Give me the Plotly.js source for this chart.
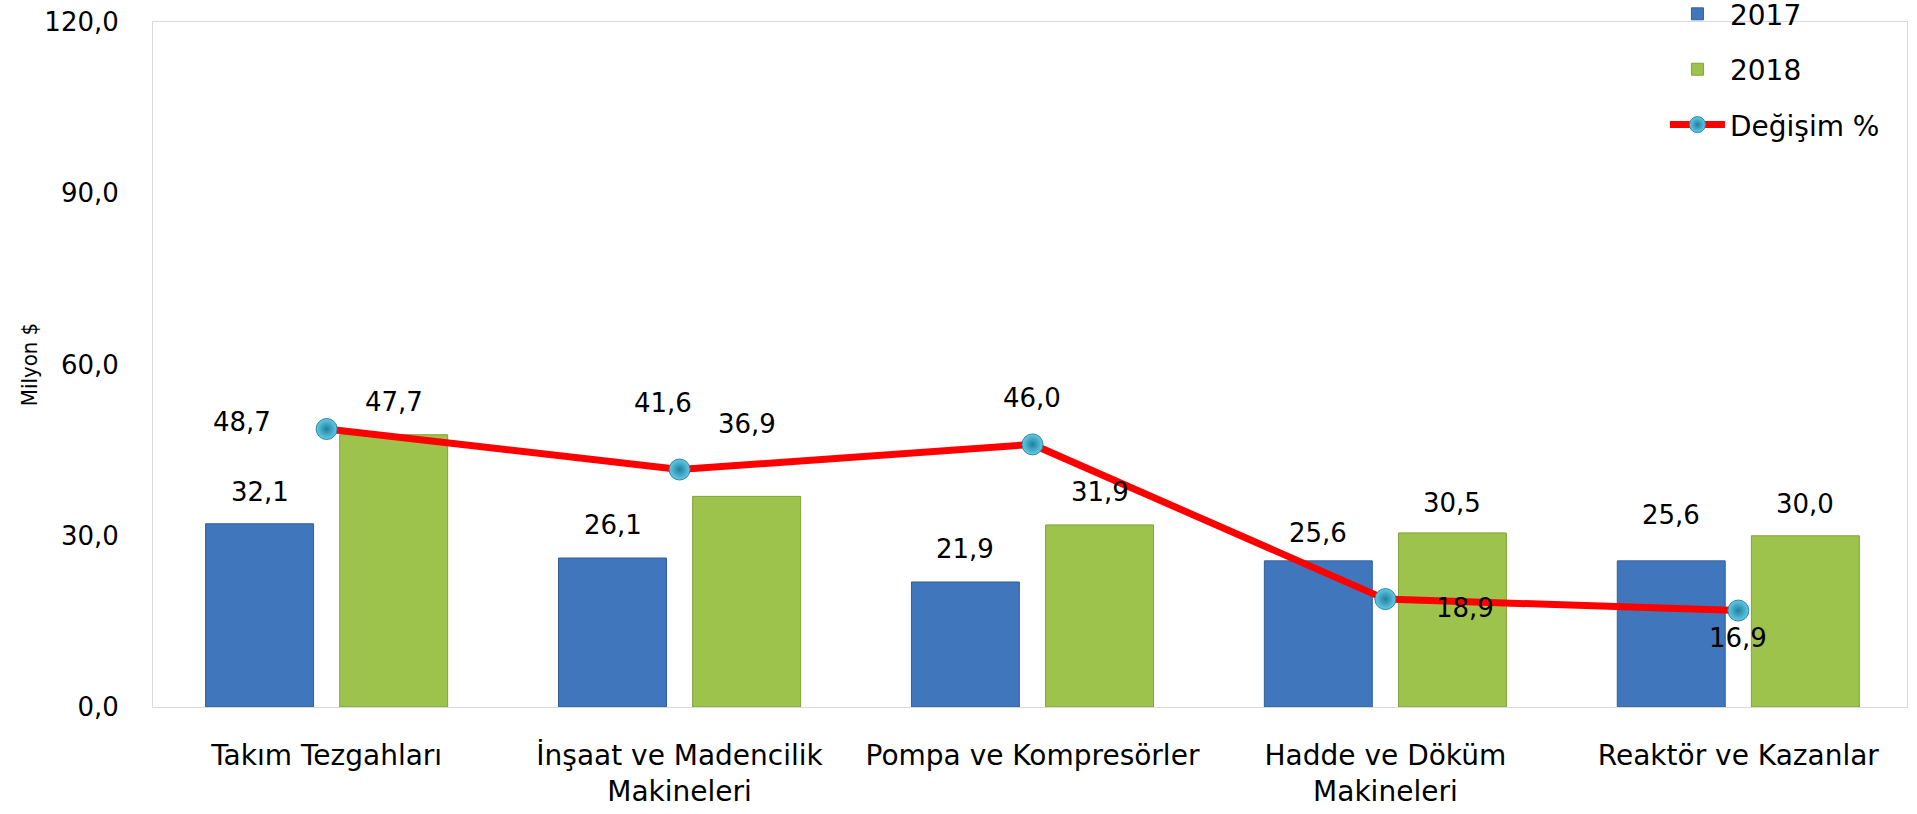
<!DOCTYPE html>
<html>
<head>
<meta charset="utf-8">
<script src="https://cdn.plot.ly/plotly-3.0.1.min.js"></script>
<style>
  html, body { margin: 0; padding: 0; background: #ffffff; }
  #chart { width: 1917px; height: 814px; }
</style>
</head>
<body>
<div id="chart"></div>
<script>
// ---- data ----
const categories = [
  "Takım Tezgahları",
  "İnşaat ve Madencilik<br>Makineleri",
  "Pompa ve Kompresörler",
  "Hadde ve Döküm<br>Makineleri",
  "Reaktör ve Kazanlar"
];
const values2017 = [32.1, 26.1, 21.9, 25.6, 25.6];
const values2018 = [47.7, 36.9, 31.9, 30.5, 30.0];
const changePct  = [48.7, 41.6, 46.0, 18.9, 16.9];
const seriesNames = ["2017", "2018", "Değişim %"];
const yTicks = [0, 30, 60, 90, 120];
const yTitle = "Milyon $";

// ---- label placement (pixel offsets, style only) ----
const lbl2017Shift = [32, 33, 33, 28, 46];
const lbl2018Shift = [33, 72, 33, 30, 32];
const lblChangeShift = [[-85, 7], [-17, 67], [0, 46], [80, -9], [0, -27]];

const BARGAP = 0.24;
const BARGROUPGAP = 0.195;
const slotOffset = (1 - BARGAP) / 4;

const fmt = v => v.toFixed(1).replace('.', ',');
const labelFont = { family: "DejaVu Sans", size: 26, color: "#000000" };

const traces = [
  {
    type: "bar", name: seriesNames[0], x: categories, y: values2017,
    legendgroup: "a",
    marker: { color: "#4076bc", line: { color: "#335f99", width: 1 } },
    hoverinfo: "skip"
  },
  {
    type: "bar", name: seriesNames[1], x: categories, y: values2018,
    legendgroup: "b",
    marker: { color: "#9dc34c", line: { color: "#82a43a", width: 1 } },
    hoverinfo: "skip"
  },
  {
    type: "scatter", mode: "lines+markers", name: seriesNames[2], x: categories, y: changePct,
    legendgroup: "c",
    line: { color: "#ff0000", width: 7 },
    marker: { size: 21, color: "#63cbe6", gradient: { type: "radial", color: "#1f7f9e" },
              line: { color: "#2a89a8", width: 1 } },
    hoverinfo: "skip"
  }
];

const annotations = [];
categories.forEach((c, i) => {
  annotations.push({
    x: i - slotOffset, y: values2017[i], xref: "x", yref: "y",
    text: fmt(values2017[i]), showarrow: false, yanchor: "middle",
    yshift: lbl2017Shift[i], font: labelFont
  });
  annotations.push({
    x: i + slotOffset, y: values2018[i], xref: "x", yref: "y",
    text: fmt(values2018[i]), showarrow: false, yanchor: "middle",
    yshift: lbl2018Shift[i], font: labelFont
  });
  annotations.push({
    x: i, y: changePct[i], xref: "x", yref: "y",
    text: fmt(changePct[i]), showarrow: false, yanchor: "middle",
    xshift: lblChangeShift[i][0], yshift: lblChangeShift[i][1], font: labelFont
  });
});

const layout = {
  width: 1917, height: 814,
  margin: { l: 153, r: 10, t: 22, b: 107, autoexpand: false },
  paper_bgcolor: "#ffffff", plot_bgcolor: "#ffffff",
  font: { family: "DejaVu Sans", color: "#000000", size: 26 },
  separators: ",.",
  barmode: "group",
  bargap: BARGAP,
  bargroupgap: BARGROUPGAP,
  showlegend: true,
  legend: {
    x: 0.862, xanchor: "left", y: 1.048, yanchor: "top",
    bgcolor: "rgba(0,0,0,0)",
    font: { family: "DejaVu Sans", size: 28, color: "#000000" },
    traceorder: "grouped", tracegroupgap: 16,
    itemwidth: 55
  },
  xaxis: {
    type: "category",
    range: [-0.492, 4.478],
    showgrid: false, zeroline: false,
    showline: true, mirror: true, linecolor: "#d9d9d9", linewidth: 1,
    ticks: "", ticklabelstandoff: 23,
    tickfont: { family: "DejaVu Sans", size: 28, color: "#000000" },
    fixedrange: true
  },
  yaxis: {
    range: [0, 120],
    tickvals: yTicks, tickformat: ".1f",
    showgrid: false, zeroline: false,
    showline: true, mirror: true, linecolor: "#d9d9d9", linewidth: 1,
    ticks: "", ticklabelstandoff: 28,
    tickfont: { family: "DejaVu Sans", size: 26, color: "#000000" },
    title: {
      text: yTitle + "\u00A0\u00A0\u00A0\u00A0\u00A0\u00A0",
      font: { family: "DejaVu Sans Condensed, DejaVu Sans", size: 22, color: "#000000" },
      standoff: 0
    },
    fixedrange: true
  },
  annotations: annotations
};

Plotly.newPlot("chart", traces, layout, { displayModeBar: false, staticPlot: true });
</script>
</body>
</html>
